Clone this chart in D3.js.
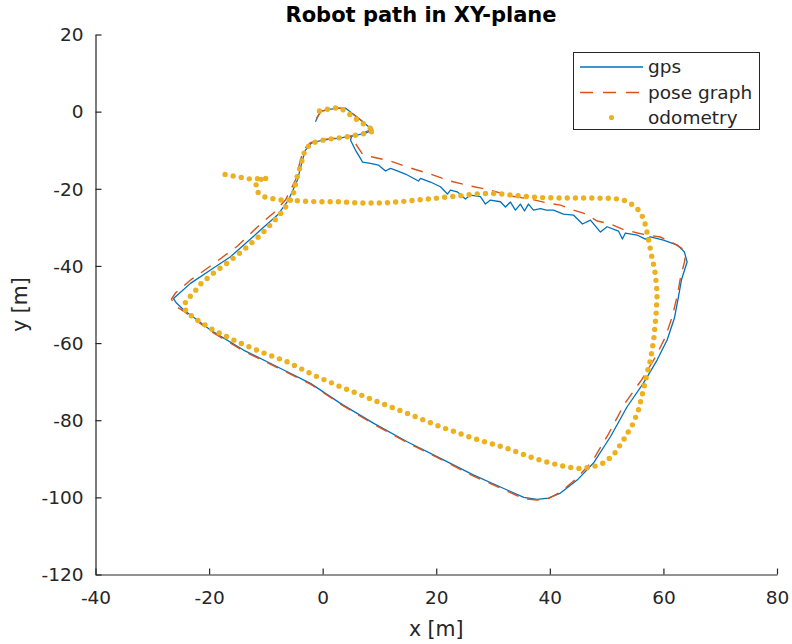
<!DOCTYPE html>
<html>
<head>
<meta charset="utf-8">
<script src="https://cdn.jsdelivr.net/npm/d3@7/dist/d3.min.js"></script>
<style>
  html, body { margin: 0; padding: 0; background: #fff; }
  svg { display: block; }
  text { font-family: "DejaVu Sans", sans-serif; fill: #262626; }
</style>
</head>
<body>
<svg id="chart" width="792" height="644"></svg>
<script>
// ---------- data ----------
const title = "Robot path in XY-plane";
const xLabel = "x [m]";
const yLabel = "y [m]";
const xTicks = [-40, -20, 0, 20, 40, 60, 80];
const yTicks = [-120, -100, -80, -60, -40, -20, 0, 20];
const seriesNames = ["gps", "pose graph", "odometry"];

// GPS track [x, y] in metres
const gpsPath = [
  [-1.27,-2.62],[-0.39,0.16],[1.37,0.67],[2.78,0.86],[4.01,0.93],[5.77,-1.14],[7.54,-3.22],[8.77,-4.77],
  [7.54,-5.55],[5.25,-6.33],[2.25,-6.97],[-0.04,-7.36],[-1.97,-8.14],[-3.03,-9.96],[-3.56,-12.55],
  [-4.44,-17.73],[-6.02,-22.92],[-7.96,-26.81],[-10.95,-30.7],[-16.23,-37.62],[-19.75,-41.07],
  [-23.27,-44.52],[-25.92,-47.99],[-26.27,-48.46],[-25.74,-49.63],[-24.45,-51.44],[-19.75,-56.63],
  [-13.94,-61.81],[-8.01,-66.14],[-2.15,-70.44],[3.13,-75.63],[9.0,-80.82],[14.88,-85.59],
  [20.74,-89.9],[26.6,-94.22],[32.48,-98.1],[35.41,-100.0],[37.77,-100.52],[39.75,-100.18],
  [41.87,-98.89],[44.81,-95.52],[47.68,-91.11],[50.67,-84.29],[53.61,-76.51],[56.48,-70.37],
  [58.89,-64.4],[60.65,-59.22],[61.94,-53.51],[62.64,-48.07],[63.17,-43.66],[64.17,-38.99],
  [63.7,-36.4],[62.46,-34.59],[60.0,-33.29],[57.7,-32.44],[56.82,-33.04],[55.37,-31.99],
  [53.31,-31.47],[52.78,-33.04],[52.08,-30.96],[50.09,-29.84],[48.91,-31.22],[47.15,-28.11],
  [45.74,-29.14],[44.16,-26.81],[42.4,-26.55],[40.64,-25.52],[39.4,-25.52],[38.35,-25.12],
  [37.12,-25.52],[36.24,-23.96],[35.54,-25.77],[34.82,-23.96],[33.94,-25.52],[33.06,-23.44],
  [32.18,-24.74],[31.3,-23.36],[29.54,-22.92],[28.66,-23.96],[27.78,-22.06],[26.02,-21.62],
  [25.14,-22.66],[23.68,-20.77],[22.5,-20.33],[21.97,-21.36],[20.74,-19.47],[18.98,-18.25],
  [17.22,-17.29],[16.87,-17.99],[14.58,-16.18],[12.82,-15.14],[11.94,-14.7],[11.06,-15.4],
  [9.82,-13.85],[8.42,-13.4],[7.01,-13.07],[6.65,-12.11],[5.77,-9.96],[5.48,-9.1],[4.9,-7.36],
  [5.07,-6.59]
];

// Pose-graph estimate [x, y]
const posePath = [
  [-1.09,-1.66],[-0.21,0.16],[2.78,0.93],[4.19,0.67],[6.3,-1.66],[8.77,-4.51],[6.65,-5.81],
  [4.01,-6.59],[-0.04,-7.23],[-2.15,-8.01],[-3.38,-9.96],[-3.91,-12.55],[-4.79,-17.73],
  [-6.55,-22.92],[-8.66,-26.29],[-10.95,-29.14],[-15.0,-34.85],[-19.75,-40.03],[-23.27,-43.66],
  [-25.92,-47.03],[-26.63,-48.59],[-25.92,-50.4],[-24.51,-51.7],[-19.75,-56.89],[-13.94,-62.07],
  [-8.01,-66.35],[-2.15,-70.63],[3.13,-75.81],[8.94,-81.0],[14.88,-85.79],[20.74,-90.07],
  [26.55,-94.48],[32.48,-98.37],[35.35,-100.31],[37.77,-100.7],[39.75,-100.31],[41.87,-98.63],
  [44.68,-95.13],[47.5,-90.59],[50.32,-83.59],[53.13,-75.81],[56.13,-69.59],[58.58,-63.63],
  [60.35,-58.44],[61.58,-53.0],[62.46,-47.55],[62.99,-43.14],[63.7,-39.0],[63.87,-37.18],
  [63.17,-35.37],[61.76,-34.07],[59.47,-32.51],[57.18,-32.0],[55.42,-31.47],[52.78,-30.44],
  [50.67,-29.14],[48.38,-28.36],[45.92,-26.29],[44.16,-25.51],[41.87,-24.22],[39.58,-23.7],
  [36.59,-22.66],[33.06,-21.88],[29.54,-20.33],[26.02,-19.29],[22.5,-17.99],[18.98,-16.18],
  [15.46,-14.62],[11.94,-12.81],[8.77,-11.77],[7.01,-10.99],[5.95,-8.66],[5.25,-6.59]
];

// Odometry track [x, y]
const odomPath = [
  [-0.56,0.16],[1.37,0.8],[2.96,1.06],[4.19,-0.1],[6.13,-2.18],[8.06,-3.99],[9.12,-5.03],
  [7.01,-5.81],[4.01,-6.59],[0.49,-7.23],[-1.97,-8.14],[-3.12,-9.96],[-3.61,-12.55],
  [-4.49,-16.88],[-5.14,-21.11],[-5.67,-22.92],[-6.9,-25.52],[-8.66,-28.55],[-10.95,-31.99],
  [-13.94,-35.88],[-16.81,-39.25],[-19.23,-41.85],[-21.51,-44.7],[-22.75,-47.03],[-23.98,-48.85],
  [-24.45,-50.4],[-23.98,-51.96],[-22.1,-54.03],[-19.23,-56.63],[-15.05,-59.66],[-10.95,-62.25],
  [-6.25,-64.84],[-1.62,-68.29],[3.13,-71.33],[8.94,-74.77],[14.88,-78.22],[20.74,-81.7],
  [26.55,-84.7],[32.48,-87.3],[37.11,-89.81],[40.11,-91.11],[43.1,-92.15],[45.39,-92.54],
  [47.5,-92.15],[49.44,-91.11],[51.2,-89.04],[52.96,-85.15],[54.72,-80.74],[55.6,-77.37],
  [56.48,-72.18],[57.13,-67.77],[57.71,-64.4],[58.29,-59.22],[58.7,-52.74],[58.9,-47.11],
  [58.6,-42.37],[58.35,-40.21],[57.85,-36.88],[57.3,-32.43],[56.75,-28.96],[56.2,-26.81],
  [55.37,-25.07],[54.19,-23.78],[52.96,-22.92],[51.2,-22.48],[47.15,-22.4],[41.87,-22.4],
  [38.35,-22.27],[34.82,-21.88],[30.72,-21.23],[27.78,-21.23],[23.68,-21.88],[20.74,-22.32],
  [14.88,-23.18],[10.7,-23.7],[6.65,-23.7],[3.13,-23.36],[-0.97,-23.36],[-3.91,-23.18],
  [-5.67,-22.92],[-7.43,-22.92],[-9.19,-22.48],[-10.37,-22.06],[-11.53,-20.77],[-11.74,-18.77],
  [-11.13,-17.6],[-9.72,-17.35],[-10.95,-17.35],[-12.71,-17.48],[-15.05,-16.88],[-16.94,-16.31],
  [-18.57,-16.0]
];

// ---------- layout ----------
const plot = { left: 95.5, right: 777, top: 34.5, bottom: 574.5 };
const colors = { gps: "#0072BD", pose: "#D95319", odom: "#EDB120", axis: "#262626" };

const svg = d3.select("#chart");
const x = d3.scaleLinear().domain([-40, 80]).range([plot.left, plot.right]);
const y = d3.scaleLinear().domain([-120, 20]).range([plot.bottom, plot.top]);

const fmt = d => String(d);   // plain hyphen-minus like the reference
const xAxis = d3.axisBottom(x).tickValues(xTicks).tickSizeInner(-6).tickSizeOuter(0).tickPadding(16).tickFormat(fmt);
const yAxis = d3.axisLeft(y).tickValues(yTicks).tickSizeInner(-6).tickSizeOuter(0).tickPadding(12).tickFormat(fmt);

const gx = svg.append("g").attr("transform", `translate(0,${plot.bottom})`).call(xAxis);
const gy = svg.append("g").attr("transform", `translate(${plot.left},0)`).call(yAxis);
[gx, gy].forEach(g => {
  g.select(".domain").attr("stroke", colors.axis).attr("stroke-width", 1.2);
  g.selectAll(".tick line").attr("stroke", colors.axis).attr("stroke-width", 1.2);
  g.selectAll(".tick text").attr("fill", colors.axis).style("font-family", "DejaVu Sans, sans-serif").style("font-size", "18.5px");
});
gx.selectAll(".tick text").attr("dy", "0.71em");
gy.selectAll(".tick text").attr("dy", "0.34em");

svg.append("clipPath").attr("id", "clip").append("rect")
  .attr("x", plot.left).attr("y", plot.top)
  .attr("width", plot.right - plot.left).attr("height", plot.bottom - plot.top);

const line = d3.line().x(d => x(d[0])).y(d => y(d[1]));
const g = svg.append("g").attr("clip-path", "url(#clip)");

g.append("path").datum(gpsPath).attr("d", line)
  .attr("fill", "none").attr("stroke", colors.gps).attr("stroke-width", 1.3).attr("stroke-linejoin", "round");
g.append("path").datum(posePath).attr("d", line)
  .attr("fill", "none").attr("stroke", colors.pose).attr("stroke-width", 1.4)
  .attr("stroke-dasharray", "12,9");
g.append("path").datum(odomPath).attr("d", line)
  .attr("fill", "none").attr("stroke", colors.odom).attr("stroke-width", 5.4)
  .attr("stroke-linecap", "round").attr("stroke-dasharray", "0,8.2");

// title & labels
svg.append("text").attr("x", 421).attr("y", 22).attr("text-anchor", "middle")
  .style("font-size", "21px").style("font-weight", "bold").style("fill", "#000").text(title);
svg.append("text").attr("x", (plot.left + plot.right) / 2).attr("y", 636).attr("text-anchor", "middle")
  .style("font-size", "20.5px").text(xLabel);
svg.append("text").attr("transform", `translate(27,${(plot.top + plot.bottom) / 2}) rotate(-90)`)
  .attr("text-anchor", "middle").style("font-size", "20.5px").text(yLabel);

// legend
const lg = svg.append("g");
lg.append("rect").attr("x", 573.5).attr("y", 52.5).attr("width", 186).attr("height", 77)
  .attr("fill", "#fff").attr("stroke", colors.axis).attr("stroke-width", 1);
const rows = [67, 92.5, 117.5];
lg.append("line").attr("x1", 580).attr("x2", 643).attr("y1", rows[0]).attr("y2", rows[0])
  .attr("stroke", colors.gps).attr("stroke-width", 1.3);
lg.append("line").attr("x1", 580).attr("x2", 643).attr("y1", rows[1]).attr("y2", rows[1])
  .attr("stroke", colors.pose).attr("stroke-width", 1.4).attr("stroke-dasharray", "13,10");
lg.append("circle").attr("cx", 611.5).attr("cy", rows[2]).attr("r", 2.6).attr("fill", colors.odom);
seriesNames.forEach((n, i) => {
  lg.append("text").attr("x", 648).attr("y", rows[i]).attr("dy", "0.34em")
    .style("font-size", "18.5px").text(n);
});
</script>
</body>
</html>
